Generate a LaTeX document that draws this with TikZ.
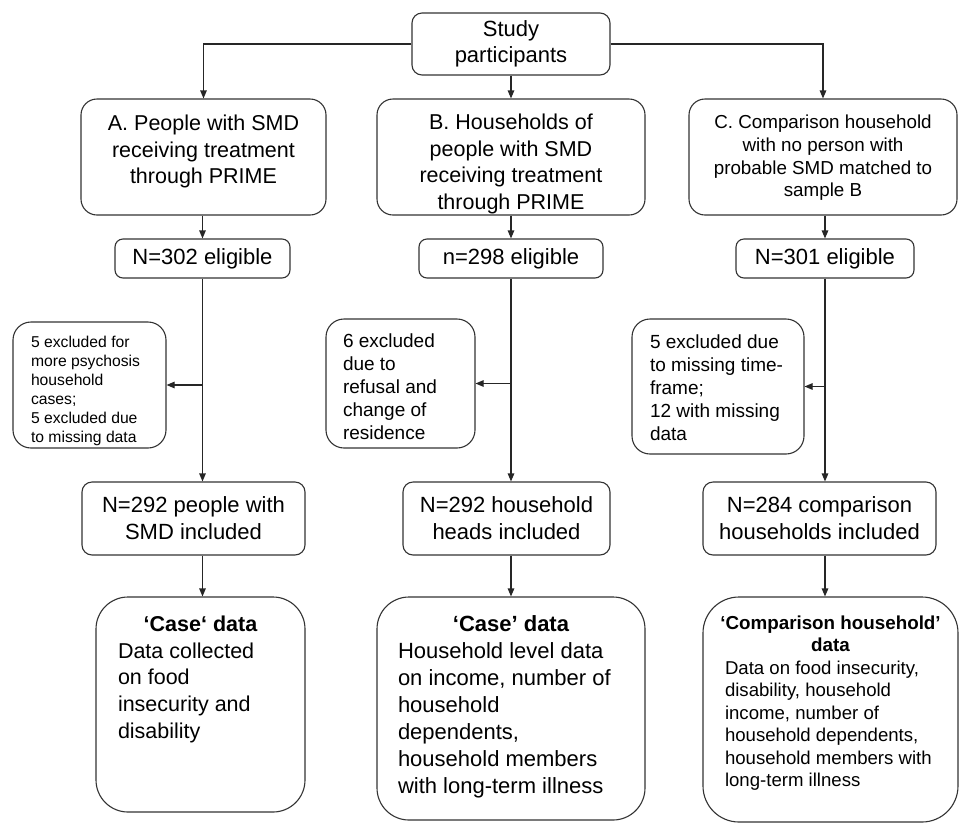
\documentclass[tikz,border=0pt]{standalone}
\usepackage{fontspec}
\setmainfont{Liberation Sans}
\usetikzlibrary{arrows.meta}
\newcommand\fs[2]{\fontsize{#1}{#2}\selectfont}
\newcommand\pb[4]{\parbox[c][#2][t]{#1}{\vspace*{#3}#4}}
\begin{document}
\begin{tikzpicture}[x=1pt,y=-1pt,
  bx/.style={draw=black!80,line width=1.1pt,inner sep=0pt,fill=white},
  cbx/.style={bx,align=center},
  arr/.style={draw=black!85,line width=1.1pt,-{Triangle[length=8pt,width=6.5pt]}}]
\useasboundingbox[fill=white] (0,0) rectangle (959,823);
% top
\node[cbx,rounded corners=10pt,minimum width=198pt,minimum height=62pt,font={\fs{22}{26}}] (top) at (511,44) {Study\\participants};
% first row
\node[bx,rounded corners=16pt] (A) at (203.5,157) {\pb{245pt}{116pt}{16pt}{\centering\fs{21.5}{26.7}A. People with SMD\\receiving treatment\\through PRIME\par}};
\node[bx,rounded corners=16pt] (B) at (511,157) {\pb{268pt}{116pt}{15pt}{\centering\fs{21.5}{26.7}B. Households of\\people with SMD\\receiving treatment\\through PRIME\par}};
\node[bx,rounded corners=16pt] (C) at (823,157) {\pb{268pt}{116pt}{16pt}{\centering\fs{18.8}{22.7}C. Comparison household\\with no person with\\probable SMD matched to\\sample B\par}};
% eligible
\node[cbx,rounded corners=8pt,minimum width=175pt,minimum height=39pt,font={\fs{22}{26}}] (N302) at (202.5,258.5) {N=302 eligible};
\node[cbx,rounded corners=8pt,minimum width=184pt,minimum height=39pt,font={\fs{22}{26}}] (n298) at (511,258.5) {n=298 eligible};
\node[cbx,rounded corners=8pt,minimum width=178pt,minimum height=39pt,font={\fs{22}{26}}] (N301) at (825,258.5) {N=301 eligible};
% exclusions
\node[bx,rounded corners=18pt] (exA) at (89.5,385) {\pb{153pt}{126pt}{14pt}{\fs{15.7}{19}\raggedright\leftskip=18pt\relax 5 excluded for\\more psychosis\\household\\cases;\\5 excluded due\\to missing data\par}};
\node[bx,rounded corners=18pt] (exB) at (400.5,383.5) {\pb{149pt}{129pt}{15pt}{\fs{19}{23}\raggedright\leftskip=17pt\relax 6 excluded\\due to\\refusal and\\change of\\residence\par}};
\node[bx,rounded corners=18pt] (exC) at (718,386.5) {\pb{172pt}{135pt}{16pt}{\fs{19}{23}\raggedright\leftskip=18pt\relax 5 excluded due\\to missing time-\\frame;\\12 with missing\\data\par}};
% included
\node[cbx,rounded corners=10pt,minimum width=223pt,minimum height=73pt,font={\fs{22}{27}}] (N292A) at (193.5,518.5) {N=292 people with\\SMD included};
\node[cbx,rounded corners=10pt,minimum width=207pt,minimum height=73pt,font={\fs{22}{27}}] (N292B) at (506.5,518.5) {N=292 household\\heads included};
\node[cbx,rounded corners=10pt,minimum width=233pt,minimum height=73pt,font={\fs{22}{27}}] (N284) at (819.5,518.5) {N=284 comparison\\households included};
% data boxes
\node[bx,rounded corners=32pt] (botA) at (200.5,704.5) {\pb{209pt}{215pt}{19pt}{{\centering\bfseries\fs{21.5}{26.7}‘Case‘ data\par}\fs{21.5}{26.7}\raggedright\leftskip=22pt\relax Data collected\\on food\\insecurity and\\disability\par}};
\node[bx,rounded corners=32pt] (botB) at (511,708.5) {\pb{268pt}{223pt}{19pt}{{\centering\bfseries\fs{22}{27}‘Case’ data\par}\fs{22}{27}\raggedright\leftskip=21pt\relax Household level data\\on income, number of\\household\\dependents,\\household members\\with long-term illness\par}};
\node[bx,rounded corners=36pt] (botC) at (830.5,709.5) {\pb{255pt}{225pt}{19pt}{{\centering\bfseries\fs{18.8}{22}‘Comparison household’\\data\par}\fs{18.6}{22.5}\raggedright\leftskip=22pt\relax Data on food insecurity,\\disability, household\\income, number of\\household dependents,\\household members with\\long-term illness\par}};
% connectors
\draw[arr] (top.west) -| (A.north);
\draw[arr] (top.east) -| (C.north);
\draw[arr] (top.south) -- (B.north);
\draw[arr] (A.south -| N302.north) -- (N302.north);
\draw[arr] (B.south) -- (n298.north);
\draw[arr] (C.south -| N301.north) -- (N301.north);
\draw[arr] (N302.south) -- (N302.south |- N292A.north);
\draw[arr] (N302.south |- exA.east) -- (exA.east);
\draw[arr] (n298.south) -- (n298.south |- N292B.north);
\draw[arr] (n298.south |- exB.east) -- (exB.east);
\draw[arr] (N301.south) -- (N301.south |- N284.north);
\draw[arr] (N301.south |- exC.east) -- (exC.east);
\draw[arr] (N302.south |- N292A.south) -- (N302.south |- botA.north);
\draw[arr] (n298.south |- N292B.south) -- (n298.south |- botB.north);
\draw[arr] (N301.south |- N284.south) -- (N301.south |- botC.north);
\end{tikzpicture}
\end{document}
